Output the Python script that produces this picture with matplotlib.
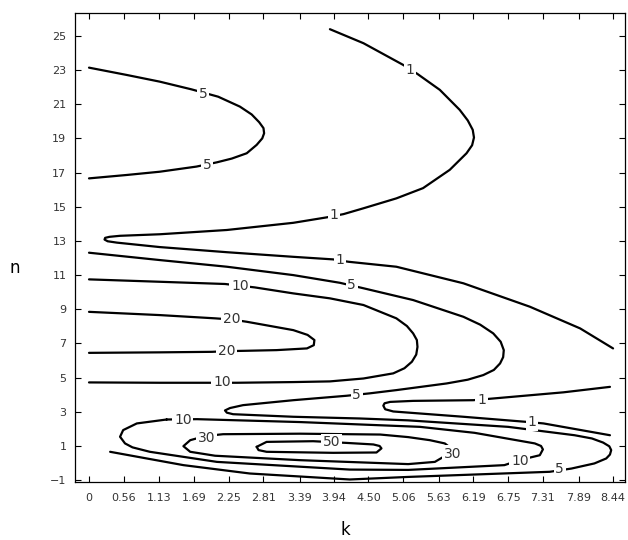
import matplotlib
matplotlib.use("Agg")
import matplotlib.pyplot as plt

# ---- axis ticks ----
x_ticks = [0, 0.56, 1.13, 1.69, 2.25, 2.81, 3.39, 3.94, 4.50, 5.06, 5.63, 6.19, 6.75, 7.31, 7.89, 8.44]
x_tick_labels = ["0", "0.56", "1.13", "1.69", "2.25", "2.81", "3.39", "3.94", "4.50",
                 "5.06", "5.63", "6.19", "6.75", "7.31", "7.89", "8.44"]
y_ticks = [-1, 1, 3, 5, 7, 9, 11, 13, 15, 17, 19, 21, 23, 25]

# ---- contour lines (k, n) ----
c5_top_k = [0.0, 0.61, 1.14, 1.65, 2.08, 2.43, 2.62, 2.74, 2.81, 2.82, 2.79, 2.70, 2.54, 2.30, 2.06,
            1.73, 1.14, 0.61, 0.0]
c5_top_n = [23.14, 22.71, 22.32, 21.87, 21.44, 20.86, 20.40, 19.95, 19.60, 19.30, 19.00, 18.62,
            18.13, 17.82, 17.60, 17.35, 17.05, 16.86, 16.66]

c1_top_k = [3.88, 4.42, 5.06, 5.29, 5.65, 5.97, 6.10, 6.18, 6.20, 6.17, 6.08, 5.81, 5.38, 4.95, 4.42,
            4.10, 3.83, 3.29, 2.22, 1.14, 0.50, 0.33, 0.26, 0.25, 0.30, 0.45, 1.14, 2.22, 3.29, 3.93,
            4.18, 4.95, 6.03, 7.10, 7.91, 8.44]
c1_top_n = [25.39, 24.57, 23.30, 22.77, 21.84, 20.67, 20.05, 19.50, 19.05, 18.60, 18.13, 17.16,
            16.09, 15.49, 14.91, 14.57, 14.38, 14.06, 13.64, 13.39, 13.30, 13.24, 13.18, 13.08,
            12.98, 12.90, 12.64, 12.34, 12.07, 11.92, 11.78, 11.49, 10.52, 9.15, 7.88, 6.71]

c5_mid_k = [0.0, 1.14, 2.22, 3.29, 4.04, 4.42, 5.22, 6.03, 6.30, 6.51, 6.63, 6.68, 6.67, 6.62, 6.52,
            6.35, 6.10, 5.76, 4.95, 4.52, 4.15, 3.29, 2.48, 2.27, 2.19, 2.22, 2.32, 3.29, 4.36, 5.14,
            6.75, 7.82, 8.10, 8.28, 8.38, 8.41, 8.39, 8.33, 8.14, 7.77, 7.42, 5.14, 4.20, 2.59,
            1.52, 0.34]
c5_mid_n = [12.31, 11.88, 11.49, 11.0, 10.55, 10.23, 9.54, 8.56, 8.10, 7.59, 7.10, 6.61, 6.20, 5.83,
            5.45, 5.15, 4.88, 4.66, 4.27, 4.08, 3.94, 3.68, 3.39, 3.22, 3.08, 2.95, 2.86, 2.71, 2.61,
            2.50, 2.12, 1.63, 1.44, 1.20, 0.98, 0.76, 0.50, 0.27, -0.02, -0.32, -0.51, -0.81,
            -0.96, -0.61, -0.12, 0.66]

c10_mid_k = [0.0, 1.14, 2.19, 2.43, 2.67, 3.29, 3.88, 4.42, 4.95, 5.12, 5.22, 5.28, 5.29, 5.27, 5.20,
             5.08, 4.90, 4.42, 3.88, 3.29, 2.38, 1.92, 1.14, 0.0]
c10_mid_n = [10.75, 10.61, 10.48, 10.38, 10.28, 9.93, 9.64, 9.25, 8.47, 8.02, 7.59, 7.20, 6.80,
             6.35, 5.93, 5.55, 5.25, 4.95, 4.78, 4.74, 4.70, 4.70, 4.70, 4.72]

c20_k = [0.0, 1.14, 2.03, 2.30, 2.54, 3.29, 3.52, 3.63, 3.62, 3.51, 3.02, 2.51, 2.22, 1.98, 1.14, 0.0]
c20_n = [8.85, 8.66, 8.47, 8.40, 8.27, 7.78, 7.50, 7.20, 6.90, 6.71, 6.61, 6.57, 6.55, 6.51, 6.48, 6.45]

c1_low_k = [8.39, 7.64, 6.51, 6.19, 5.22, 4.85, 4.76, 4.74, 4.77, 4.90, 6.03, 7.05, 7.32, 8.39]
c1_low_n = [4.46, 4.14, 3.78, 3.68, 3.64, 3.58, 3.50, 3.36, 3.15, 3.02, 2.71, 2.41, 2.32, 1.63]

c10_low_k = [1.25, 1.74, 3.40, 5.33, 6.21, 7.18, 7.28, 7.31, 7.26, 6.94, 6.69, 5.14, 4.20, 2.06,
             0.98, 0.70, 0.58, 0.50, 0.55, 0.77, 1.25]
c10_low_n = [2.55, 2.57, 2.40, 2.12, 1.77, 1.15, 1.00, 0.80, 0.46, 0.18, -0.12, -0.40, -0.38, 0.07,
             0.66, 0.92, 1.15, 1.54, 1.93, 2.32, 2.55]

c30_k = [1.87, 2.16, 3.40, 4.69, 5.14, 5.49, 5.73, 5.85, 5.73, 5.57, 5.14, 3.40, 2.03, 1.63, 1.52,
         1.63, 1.87]
c30_n = [1.58, 1.69, 1.72, 1.67, 1.52, 1.34, 1.15, 0.81, 0.41, 0.07, -0.06, 0.17, 0.43, 0.66, 0.99,
         1.34, 1.58]

c50_k = [2.70, 2.86, 3.61, 4.15, 4.58, 4.68, 4.71, 4.63, 3.93, 2.86, 2.73, 2.70]
c50_n = [0.95, 1.24, 1.28, 1.18, 1.09, 1.00, 0.86, 0.62, 0.60, 0.66, 0.76, 0.95]

# ---- inline contour labels ----
label_text = ["5", "5", "1", "1", "1", "5", "10", "20", "20", "10", "5", "1", "1",
              "10", "30", "50", "30", "10", "5"]
label_k = [1.84, 1.90, 5.17, 3.95, 4.04, 4.23, 2.43, 2.30, 2.22, 2.14, 4.31, 6.32, 7.13,
           1.51, 1.89, 3.91, 5.85, 6.94, 7.58]
label_n = [21.6, 17.45, 23.0, 14.5, 11.87, 10.4, 10.38, 8.42, 6.58, 4.72, 3.98, 3.72, 2.38,
           2.55, 1.45, 1.22, 0.55, 0.15, -0.33]

fig = plt.figure(figsize=(6.28, 5.40), dpi=100)
ax = fig.add_axes([0.119, 0.107, 0.876, 0.869])

lines = [(c5_top_k, c5_top_n), (c1_top_k, c1_top_n), (c5_mid_k, c5_mid_n),
         (c10_mid_k, c10_mid_n), (c20_k, c20_n), (c1_low_k, c1_low_n),
         (c10_low_k, c10_low_n), (c30_k, c30_n), (c50_k, c50_n)]
for kk, nn in lines:
    ax.plot(kk, nn, color="black", lw=1.6, solid_capstyle="round",
            solid_joinstyle="round", zorder=2)

for t, kx, ny in zip(label_text, label_k, label_n):
    ax.text(kx, ny, t, ha="center", va="center", fontsize=10, color="#333333",
            bbox=dict(facecolor="white", edgecolor="none", pad=1.2), zorder=3)

ax.set_xlim(-0.23, 8.63)
ax.set_ylim(-1.12, 26.34)
ax.set_xticks(x_ticks)
ax.set_xticklabels(x_tick_labels)
ax.set_yticks(y_ticks)
ax.tick_params(direction="in", top=True, right=True, length=4, width=0.8,
               labelsize=8, labelcolor="#333333")
ax.tick_params(axis="x", pad=8)
ax.tick_params(axis="y", pad=6)
for s in ax.spines.values():
    s.set_linewidth(0.9)
    s.set_linestyle((0, (6, 1)))

fig.text(0.024, 0.503, "n", fontsize=12, ha="center", va="center")
fig.text(0.55, 0.018, "k", fontsize=12, ha="center", va="center")

fig.savefig("out.png", dpi=100, facecolor="white")
